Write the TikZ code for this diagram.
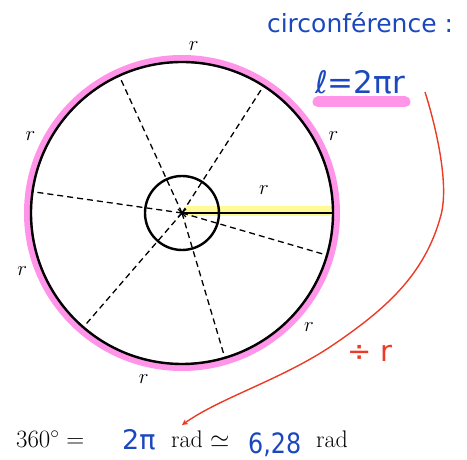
\documentclass[tikz,border=0pt]{standalone}
\usepackage{fontspec}
\newfontfamily\hand{DejaVu Sans}
\usetikzlibrary{arrows.meta,calc}
\definecolor{pinkhl}{RGB}{255,148,232}
\definecolor{yellowhl}{RGB}{255,250,150}
\definecolor{handblue}{RGB}{28,72,190}
\definecolor{handred}{RGB}{236,58,38}
\tikzset{
  rlabel/.style={font=\fontsize{21}{24}\selectfont},
  radius dash/.style={line width=1.3pt, dash pattern=on 6pt off 4pt},
  bluetext/.style={text=handblue, font=\hand\fontsize{25}{28}\selectfont, inner sep=0pt},
  blacktext/.style={font=\fontsize{24}{28}\selectfont, inner sep=0pt},
}
\begin{document}
\begin{tikzpicture}[x=1pt,y=1pt]
\useasboundingbox (0,0) rectangle (467,460);
\coordinate (C) at (182,247);
% highlights
\draw[pinkhl, line width=8pt] (C) circle[radius=154];
\draw[yellowhl, line width=10pt] ($(C)+(4,2)$) -- ($(C)+(151,2)$);
% circles
\draw[line width=2.4pt] (C) circle[radius=151];
\draw[line width=2.4pt] (C) circle[radius=37];
% radii
\coordinate (E0) at ($(C)+(0:151)$);
\draw[line width=2.4pt] (C) -- (E0);
\foreach \k in {1,...,6}{
  \coordinate (E\k) at ($(C)+({\k*57.2958}:151)$);
  \draw[radius dash] (C) -- (E\k);
}
\draw[line width=1.2pt] ($(C)+(-4,-4)$) -- ($(C)+(4,4)$) ($(C)+(-4,4)$) -- ($(C)+(4,-4)$);
% r labels
\node[rlabel] (r1) at ($(C)+(86:167)$) {$r$};
\node[rlabel] (r2) at ($(C)+(153:170)$) {$r$};
\node[rlabel] (r3) at ($(C)+(27:170)$) {$r$};
\node[rlabel] (r4) at ($(C)+(200:170)$) {$r$};
\node[rlabel] (r5) at ($(C)+(257:170)$) {$r$};
\node[rlabel] (r6) at ($(C)+(318:171)$) {$r$};
\node[rlabel] (r0) at (264,270) {$r$};
% top handwriting
\node[bluetext, anchor=base] (circ) at (360,427) {circonférence :};
\draw[pinkhl, line width=11pt, line cap=round] (318,358) -- (405,358);
\node[bluetext, anchor=base, font=\hand\fontsize{31}{34}\selectfont] (form) at (360,366) {ℓ=2πr};
% bottom line
\node[blacktext, anchor=base west] (deg) at (16,12) {$360^\circ =$};
\node[bluetext, anchor=base west, font=\hand\fontsize{27}{30}\selectfont] (twopi) at (122,10) {2π};
\node[blacktext, anchor=base west] (rad1) at (171,12) {rad $\simeq$};
\node[bluetext, anchor=base west, font=\hand\fontsize{28}{30}\selectfont, xscale=0.85] (val) at (248,6) {6,28};
\node[blacktext, anchor=base west] (rad2) at (316,12) {rad};
% red arrow
\coordinate (start) at (425,368);
\coordinate (mid1) at (441,245);
\coordinate (mid2) at (330,113);
\coordinate (end) at (182,35);
\draw[handred, line width=1.4pt, -{Stealth[length=6pt,width=6pt]}]
  (start) .. controls (437,330) and (449,275) .. (mid1)
  .. controls (425,185) and (385,150) .. (mid2)
  .. controls (280,80) and (220,62) .. (end);
\node[text=handred, font=\hand\fontsize{29}{32}\selectfont, inner sep=0pt] (div) at (370,107) {÷ r};
\end{tikzpicture}
\end{document}
